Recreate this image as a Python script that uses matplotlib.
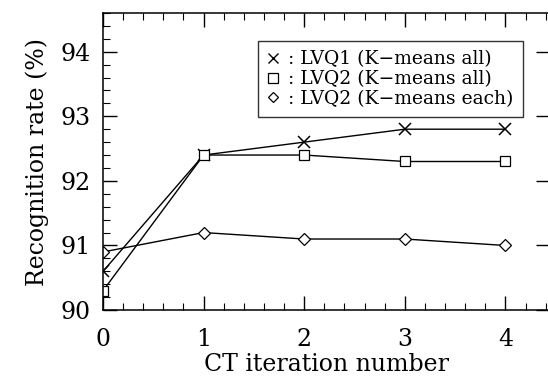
import matplotlib
matplotlib.use("Agg")
import matplotlib.pyplot as plt
from matplotlib.lines import Line2D
from matplotlib.ticker import MultipleLocator

plt.rcParams['font.family'] = ['DejaVu Serif']

iterations = [0, 1, 2, 3, 4]
lvq1_all = [90.6, 92.4, 92.6, 92.8, 92.8]
lvq2_all = [90.3, 92.4, 92.4, 92.3, 92.3]
lvq2_each = [90.9, 91.2, 91.1, 91.1, 91.0]
labels = [": LVQ1 (K\u2212means all)", ": LVQ2 (K\u2212means all)", ": LVQ2 (K\u2212means each)"]

fig = plt.figure(figsize=(5.48, 3.80), dpi=100)
ax = fig.add_axes([0.188, 0.184, 0.815, 0.782])

ax.plot(iterations, lvq1_all, color='black', lw=1.0, marker='x', ms=8, mew=1.1)
ax.plot(iterations, lvq2_all, color='black', lw=1.0, marker='s', ms=7.5, mfc='white', mew=0.9)
ax.plot(iterations, lvq2_each, color='black', lw=1.0, marker='D', ms=6, mfc='white', mew=0.9)

ax.set_xlim(0, 4.44)
ax.set_ylim(90, 94.6)
ax.xaxis.set_major_locator(MultipleLocator(1))
ax.xaxis.set_minor_locator(MultipleLocator(0.2))
ax.yaxis.set_major_locator(MultipleLocator(1))
ax.yaxis.set_minor_locator(MultipleLocator(0.2))
ax.tick_params(which='major', direction='in', length=10, width=1.0, top=True, right=True,
               labelsize=17, pad=9)
ax.tick_params(axis='x', which='major', pad=13)
ax.tick_params(which='minor', direction='in', length=5, width=0.8, top=True, right=False)
for s in ax.spines.values():
    s.set_linewidth(1.1)

ax.set_xlabel("CT iteration number", fontsize=17, labelpad=1)
ax.set_ylabel("Recognition rate (%)", fontsize=17, labelpad=8)

handles = [
    Line2D([], [], ls='none', color='black', marker='x', ms=7, mew=1.0),
    Line2D([], [], ls='none', color='black', marker='s', ms=6.5, mfc='white', mew=0.9),
    Line2D([], [], ls='none', color='black', marker='D', ms=5.5, mfc='white', mew=0.9),
]
leg = ax.legend(handles, labels, loc='upper left', bbox_to_anchor=(0.348, 0.906),
                fontsize=13.5, handlelength=0.6, handletextpad=0.5, labelspacing=0.1,
                borderpad=0.5, borderaxespad=0, frameon=True, fancybox=False, edgecolor='black')
leg.get_frame().set_linewidth(1.0)

fig.savefig("out.png", dpi=100)
